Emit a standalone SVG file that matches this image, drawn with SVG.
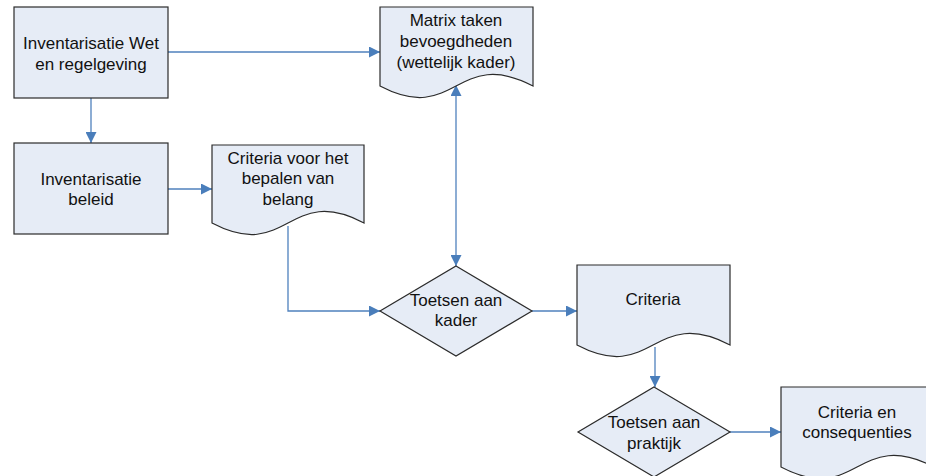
<svg xmlns="http://www.w3.org/2000/svg" width="926" height="476" viewBox="0 0 926 476">
<style>
.shape{fill:#e6ecf6;stroke:#2b2b2b;stroke-width:1.2}
.lbl{font-family:"Liberation Sans",Arial,sans-serif;font-size:17px;fill:#111;text-anchor:middle}
.conn{fill:none;stroke:#4f81bd;stroke-width:1.3}
</style>
<defs>
<marker id="arr" viewBox="0 0 10 10" refX="10" refY="5" markerWidth="11" markerHeight="11" markerUnits="userSpaceOnUse" orient="auto-start-reverse">
<path d="M0,0 L10,5 L0,10 Z" fill="#4a7ebb"/>
</marker>
</defs>
<rect width="926" height="476" fill="#ffffff"/>
<g id="connectors">
<path class="conn" d="M168,52 H380" marker-end="url(#arr)"/>
<path class="conn" d="M91,98 V143" marker-end="url(#arr)"/>
<path class="conn" d="M168,189 H212" marker-end="url(#arr)"/>
<path class="conn" d="M288,226 V311 H380" marker-end="url(#arr)"/>
<path class="conn" d="M456,85 V266" marker-start="url(#arr)" marker-end="url(#arr)"/>
<path class="conn" d="M532,311 H577" marker-end="url(#arr)"/>
<path class="conn" d="M655,347 V387" marker-end="url(#arr)"/>
<path class="conn" d="M730,432 H781" marker-end="url(#arr)"/>
</g>
<g id="n1">
<rect class="shape" x="14" y="7" width="154" height="91"/>
<text class="lbl" x="91" y="49">Inventarisatie Wet</text>
<text class="lbl" x="91" y="69.5">en regelgeving</text>
</g>
<g id="n2">
<rect class="shape" x="14" y="143" width="154" height="91"/>
<text class="lbl" x="91" y="184.5">Inventarisatie</text>
<text class="lbl" x="91" y="204.5">beleid</text>
</g>
<g id="n3">
<path class="shape" d="M212,145 H364 V223 C288,183 288,263 212,223 Z"/>
<text class="lbl" x="288" y="163.5">Criteria voor het</text>
<text class="lbl" x="288" y="184">bepalen van</text>
<text class="lbl" x="288" y="204.5">belang</text>
</g>
<g id="n4">
<path class="shape" d="M380,7 H533 V86 C456,46 456,126 380,86 Z"/>
<text class="lbl" x="456" y="26">Matrix taken</text>
<text class="lbl" x="456" y="47">bevoegdheden</text>
<text class="lbl" x="456" y="68">(wettelijk kader)</text>
</g>
<g id="n5">
<path class="shape" d="M456,266 L532,311 L456,356 L380,311 Z"/>
<text class="lbl" x="456" y="306">Toetsen aan</text>
<text class="lbl" x="456" y="325.5">kader</text>
</g>
<g id="n6">
<path class="shape" d="M577,265 H730 V345 C653,305 653,385 577,345 Z"/>
<text class="lbl" x="653" y="305">Criteria</text>
</g>
<g id="n7">
<path class="shape" d="M654,387 L730,432 L654,477 L578,432 Z"/>
<text class="lbl" x="654" y="428">Toetsen aan</text>
<text class="lbl" x="654" y="448.5">praktijk</text>
</g>
<g id="n8">
<path class="shape" d="M781,387 H934 V467 C857,427 857,507 781,467 Z"/>
<text class="lbl" x="857" y="418">Criteria en</text>
<text class="lbl" x="857" y="437.5">consequenties</text>
</g>
</svg>
